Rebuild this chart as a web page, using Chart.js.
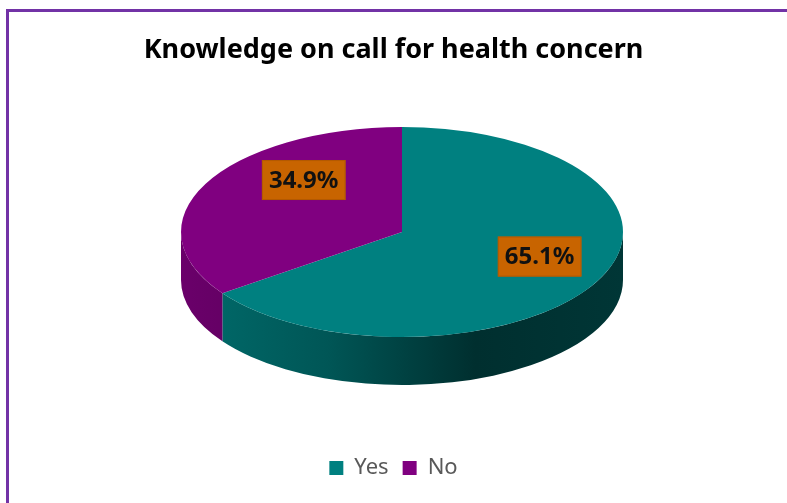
<!DOCTYPE html>
<html>
<head>
<meta charset="utf-8">
<script src="https://cdn.jsdelivr.net/npm/chart.js@4"></script>
<style>
  html, body { margin: 0; padding: 0; background: #fff; }
  #wrap { width: 787px; height: 503px; position: relative; }
</style>
</head>
<body>
<div id="wrap"><canvas id="pie"></canvas></div>
<script>
  const categories = ['Yes', 'No'];
  const shares = [65.1, 34.9];
  const topColors = ['#008080', '#800080'];
  const sideStops = [
    ['#006c6c', '#005656', '#002f2f', '#003636'],
    ['#6a006a', '#5a005a', '#4a004a', '#4a004a'],
  ];

  // ellipse of the top face and thickness of the disc
  const FACE = { cx: 402, cy: 232, rx: 221, ry: 105, depth: 48 };
  // where each percentage box sits along its slice
  const LABEL_POS = [{ f: 0.70, dy: -9 }, { f: 0.50, dy: -28 }];

  function sideGradient(ctx, stops) {
    const g = ctx.createLinearGradient(FACE.cx - FACE.rx, 0, FACE.cx + FACE.rx, 0);
    stops.forEach((c, i) => g.addColorStop(i / (stops.length - 1), c));
    return g;
  }

  const frame = {
    id: 'frame',
    beforeDraw(chart) {
      const { ctx, width, height } = chart;
      ctx.save();
      ctx.strokeStyle = '#7232a6';
      ctx.lineWidth = 3;
      ctx.beginPath();
      ctx.moveTo(7.5, height);
      ctx.lineTo(7.5, 10.5);
      ctx.lineTo(width, 10.5);
      ctx.stroke();
      ctx.restore();
    },
  };

  const tilt = {
    id: 'tilt',
    beforeDatasetsDraw(chart) {
      const { ctx } = chart;
      const arcs = chart.getDatasetMeta(0).data;
      // front wall of the disc, only the half facing the viewer
      arcs.forEach((arc, i) => {
        const { startAngle, endAngle } = arc.getProps(['startAngle', 'endAngle'], true);
        for (let k = -1; k <= 1; k++) {
          const lo = Math.max(startAngle, 2 * Math.PI * k);
          const hi = Math.min(endAngle, 2 * Math.PI * k + Math.PI);
          if (hi <= lo) continue;
          ctx.save();
          ctx.beginPath();
          ctx.ellipse(FACE.cx, FACE.cy, FACE.rx, FACE.ry, 0, lo, hi);
          ctx.ellipse(FACE.cx, FACE.cy + FACE.depth, FACE.rx, FACE.ry, 0, hi, lo, true);
          ctx.closePath();
          ctx.fillStyle = sideGradient(ctx, sideStops[i]);
          ctx.fill();
          ctx.restore();
        }
      });
      // squash the round pie into the top face ellipse
      const { x, y, outerRadius } = arcs[0].getProps(['x', 'y', 'outerRadius'], true);
      ctx.save();
      ctx.translate(FACE.cx, FACE.cy);
      ctx.scale(FACE.rx / outerRadius, FACE.ry / outerRadius);
      ctx.translate(-x, -y);
    },
    afterDatasetsDraw(chart) {
      const { ctx } = chart;
      ctx.restore();
      const arcs = chart.getDatasetMeta(0).data;
      ctx.save();
      ctx.font = 'bold 24px "Noto Sans"';
      ctx.textAlign = 'center';
      ctx.textBaseline = 'middle';
      arcs.forEach((arc, i) => {
        const { startAngle, endAngle } = arc.getProps(['startAngle', 'endAngle'], true);
        const mid = (startAngle + endAngle) / 2;
        const pos = LABEL_POS[i];
        const lx = FACE.cx + Math.cos(mid) * FACE.rx * pos.f;
        const ly = FACE.cy + Math.sin(mid) * FACE.ry * pos.f + pos.dy;
        const text = shares[i].toFixed(1) + '%';
        const w = ctx.measureText(text).width + 14;
        const h = 40;
        ctx.fillStyle = '#c86400';
        ctx.fillRect(lx - w / 2, ly - h / 2, w, h);
        ctx.strokeStyle = '#b45a00';
        ctx.lineWidth = 1;
        ctx.strokeRect(lx - w / 2 + 0.5, ly - h / 2 + 0.5, w - 1, h - 1);
        ctx.fillStyle = '#111';
        ctx.fillText(text, lx, ly + 1);
      });
      ctx.restore();
    },
  };

  new Chart(document.getElementById('pie'), {
    type: 'pie',
    data: {
      labels: categories,
      datasets: [{
        data: shares,
        backgroundColor: topColors,
        borderWidth: 0,
        clip: false,
      }],
    },
    options: {
      responsive: true,
      maintainAspectRatio: false,
      animation: false,
      events: [],
      layout: { padding: { bottom: 14 } },
      plugins: {
        title: {
          display: true,
          text: 'Knowledge on call for health concern',
          color: '#000',
          font: { family: '"Noto Sans"', size: 27, weight: 'bold' },
          padding: { top: 34, bottom: 10 },
        },
        legend: {
          position: 'bottom',
          labels: {
            color: '#595959',
            font: { family: '"Noto Sans"', size: 22 },
            boxWidth: 14,
            boxHeight: 14,
            padding: 14,
          },
        },
        tooltip: { enabled: false },
      },
    },
    plugins: [frame, tilt],
  });
</script>
</body>
</html>
